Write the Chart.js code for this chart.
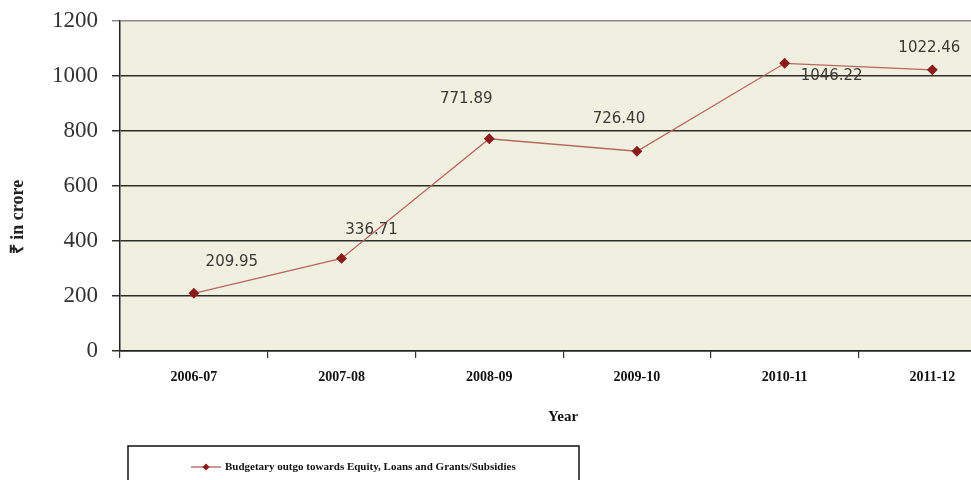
<!DOCTYPE html>
<html>
<head>
<meta charset="utf-8">
<script src="https://cdn.jsdelivr.net/npm/chart.js@4.4.1/dist/chart.umd.min.js"></script>
<style>
  html, body { margin: 0; padding: 0; background: #fff; overflow: hidden; }
  #wrap { width: 1012px; height: 480px; }
</style>
</head>
<body>
<div id="wrap"><canvas id="chart" width="1012" height="480"></canvas></div>
<script>
const years = ["2006-07", "2007-08", "2008-09", "2009-10", "2010-11", "2011-12"];
const outgo = [209.95, 336.71, 771.89, 726.40, 1046.22, 1022.46];
const seriesLabel = "Budgetary outgo towards Equity, Loans and Grants/Subsidies";
const yTitle = "₹ in crore";

// label offsets from each point (px), as placed in the original
const labelOffsets = [[38, -31], [30, -28], [-23, -40], [-18, -32], [47, 13], [-3, -22]];

const plotBg = {
    id: "plotBg",
    beforeDraw(chart) {
        const {ctx, chartArea: a} = chart;
        ctx.save();
        ctx.fillStyle = "#f0efe0";
        ctx.fillRect(a.left, a.top, a.right - a.left, a.bottom - a.top);
        ctx.restore();
    },
};

const pointLabels = {
    id: "pointLabels",
    afterDatasetsDraw(chart) {
        const ctx = chart.ctx;
        const meta = chart.getDatasetMeta(0);
        ctx.save();
        ctx.font = "15px 'DejaVu Sans'";
        ctx.fillStyle = "#3a3a36";
        ctx.textAlign = "center";
        ctx.textBaseline = "middle";
        meta.data.forEach((pt, i) => {
            const [dx, dy] = labelOffsets[i];
            ctx.fillText(outgo[i].toFixed(2), pt.x + dx, pt.y + dy);
        });
        ctx.restore();
    },
};

const extras = {
    id: "extras",
    afterDraw(chart) {
        const {ctx, chartArea: a} = chart;
        ctx.save();
        // y axis title
        ctx.translate(18, 217);
        ctx.rotate(-Math.PI / 2);
        ctx.font = "bold 18px 'Liberation Serif'";
        ctx.fillStyle = "#222";
        ctx.textAlign = "center";
        ctx.textBaseline = "middle";
        ctx.fillText(yTitle, 0, 0);
        ctx.restore();

        // legend box
        ctx.save();
        const top = a.bottom + 95;
        ctx.strokeStyle = "#111";
        ctx.lineWidth = 1.5;
        ctx.strokeRect(128, top, 451, 50);
        const ly = top + 21;
        ctx.strokeStyle = "#a8544a";
        ctx.lineWidth = 1.2;
        ctx.beginPath();
        ctx.moveTo(191, ly);
        ctx.lineTo(221, ly);
        ctx.stroke();
        ctx.fillStyle = "#8b1c1c";
        ctx.beginPath();
        ctx.moveTo(206, ly - 3.5);
        ctx.lineTo(209.5, ly);
        ctx.lineTo(206, ly + 3.5);
        ctx.lineTo(202.5, ly);
        ctx.closePath();
        ctx.fill();
        ctx.font = "bold 11px 'Liberation Serif'";
        ctx.fillStyle = "#111";
        ctx.textBaseline = "middle";
        ctx.fillText(chart.data.datasets[0].label, 225, ly);
        ctx.restore();
    },
};

new Chart(document.getElementById("chart"), {
    type: "line",
    data: {
        labels: years,
        datasets: [{
            label: seriesLabel,
            data: outgo,
            borderColor: "#b8675c",
            borderWidth: 1.3,
            backgroundColor: "#8b1c1c",
            pointBackgroundColor: "#8b1c1c",
            pointBorderColor: "#8b1c1c",
            pointStyle: "rectRot",
            pointRadius: 4.5,
            tension: 0,
        }],
    },
    options: {
        responsive: false,
        animation: false,
        layout: {padding: {left: 0, top: 21, right: 4, bottom: 49}},
        plugins: {
            legend: {display: false},
            tooltip: {enabled: false},
        },
        scales: {
            x: {
                offset: true,
                grid: {offset: true, drawOnChartArea: false, tickLength: 7, color: "#333", lineWidth: 1.2},
                border: {color: "#222", width: 1.5},
                ticks: {
                    font: {family: "'Liberation Serif'", size: 14, weight: "bold"},
                    color: "#111",
                    padding: 11,
                    maxRotation: 0,
                },
                title: {
                    display: true,
                    text: "Year",
                    font: {family: "'Liberation Serif'", size: 15, weight: "bold"},
                    color: "#111",
                    padding: {top: 0, bottom: 5},
                },
                afterFit: (scale) => { scale.height = 80; },
            },
            y: {
                min: 0,
                max: 1200,
                ticks: {
                    stepSize: 200,
                    callback: (v) => String(v),
                    font: {family: "'Liberation Serif'", size: 23},
                    color: "#333",
                    padding: 14,
                },
                grid: {
                    color: (c) => (c.tick && c.tick.value === 1200 ? "#8c8c84" : "#2f2f2a"),
                    lineWidth: 1.5,
                    tickLength: 8,
                },
                border: {color: "#222", width: 1.5},
                afterFit: (scale) => {
                    scale.width = 120;
                    scale.paddingTop = 0;
                    scale.paddingBottom = 0;
                },
            },
        },
    },
    plugins: [plotBg, pointLabels, extras],
});
</script>
</body>
</html>
